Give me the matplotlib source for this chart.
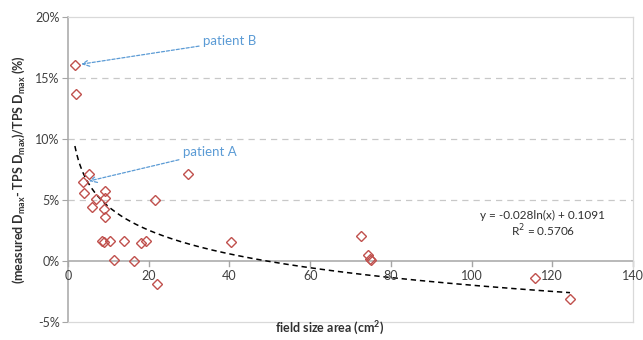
import numpy as np
import matplotlib.pyplot as plt

plt.rcParams['font.family'] = ['Lato', 'DejaVu Sans']

# field size area (cm2) and relative Dmax difference (%)
field_area = [1.7, 2.0, 5.2, 3.6, 4.0, 6.9, 6.0, 9.1, 9.1, 9.0, 9.1, 8.5, 9.0, 10.3,
              11.3, 13.9, 16.3, 18.0, 19.2, 21.6, 22.1, 29.8, 40.3, 72.7, 74.4,
              74.8, 75.0, 115.8, 124.4]
dmax_diff = [16.1, 13.7, 7.15, 6.45, 5.6, 5.05, 4.45, 5.76, 5.16, 4.3, 3.6, 1.66, 1.53, 1.66,
             0.1, 1.66, 0.0, 1.48, 1.66, 5.0, -1.9, 7.15, 1.56, 2.02, 0.45,
             0.2, 0.05, -1.39, -3.1]

# trendline from the chart: y = -0.028 ln(x) + 0.1091
fit_a = -0.028
fit_b = 0.1091
fit_r2 = 0.5706

xticks = [0, 20, 40, 60, 80, 100, 120, 140]
yticks = [-5, 0, 5, 10, 15, 20]

fig = plt.figure(figsize=(6.43, 3.40), dpi=100)
ax = fig.add_axes([0.1058, 0.053, 0.8786, 0.897])

for y in [5, 10, 15]:
    ax.axhline(y, color='#C8C8C8', lw=0.9, ls=(0, (5, 4)), zorder=1)

xs = np.linspace(min(field_area), max(field_area), 300)
ax.plot(xs, 100 * (fit_a * np.log(xs) + fit_b), color='black', lw=1.1,
        ls=(0, (3.5, 2.5)), zorder=2)

ax.plot(field_area, dmax_diff, 'D', ms=5.5, mfc='none', mec='#C0504D', mew=1.0, zorder=3)

ax.set_xlim(0, 140)
ax.set_ylim(-5, 20)
ax.set_yticks(yticks)
ax.set_yticklabels([f'{v}%' for v in yticks], fontsize=9, color='#404040')
ax.set_xticks(xticks)
ax.set_xticklabels([])

# x axis drawn at y = 0 with labels just below it
ax.axhline(0, color='#A6A6A6', lw=1.1, zorder=1)
for x in xticks:
    ax.plot([x, x], [0, -0.4], color='#A6A6A6', lw=1.0, clip_on=False)
    ax.text(x, -0.75, str(x), ha='center', va='top', fontsize=9, color='#404040')
ax.tick_params(axis='x', length=0)
ax.tick_params(axis='y', length=4, color='#A6A6A6', pad=2)

for side in ['top', 'right', 'bottom']:
    ax.spines[side].set_color('#D9D9D9')
    ax.spines[side].set_linewidth(0.9)
ax.spines['left'].set_color('#A6A6A6')
ax.spines['left'].set_linewidth(1.1)

ax.text(117.7, 3.7, 'y = -0.028ln(x) + 0.1091', ha='center', va='center', fontsize=8.5, color='#303030')
ax.text(117.7, 2.45, 'R$^2$ = 0.5706', ha='center', va='center', fontsize=8.5, color='#303030')

blue = '#5B9BD5'
ax.annotate('patient B', xy=(2.6, 16.1), xytext=(33.5, 18.0), fontsize=9.5, color=blue,
            ha='left', va='center',
            arrowprops=dict(arrowstyle='->', color=blue, lw=0.9, ls=(0, (2.5, 1.5)),
                            shrinkA=1, shrinkB=2, mutation_scale=12))
ax.annotate('patient A', xy=(4.5, 6.5), xytext=(28.5, 8.9), fontsize=9.5, color=blue,
            ha='left', va='center',
            arrowprops=dict(arrowstyle='->', color=blue, lw=0.9, ls=(0, (2.5, 1.5)),
                            shrinkA=1, shrinkB=2, mutation_scale=12))

ax.set_ylabel('(measured D$_{\\mathregular{max}}$- TPS D$_{\\mathregular{max}}$)/TPS D$_{\\mathregular{max}}$ (%)',
              fontsize=9, fontweight='bold', color='#303030', labelpad=6)
fig.text(0.513, 0.035, 'field size area (cm$^{\\mathregular{2}}$)', ha='center', va='center',
         fontsize=9, fontweight='bold', color='#303030')

fig.savefig('out.png', dpi=100)
